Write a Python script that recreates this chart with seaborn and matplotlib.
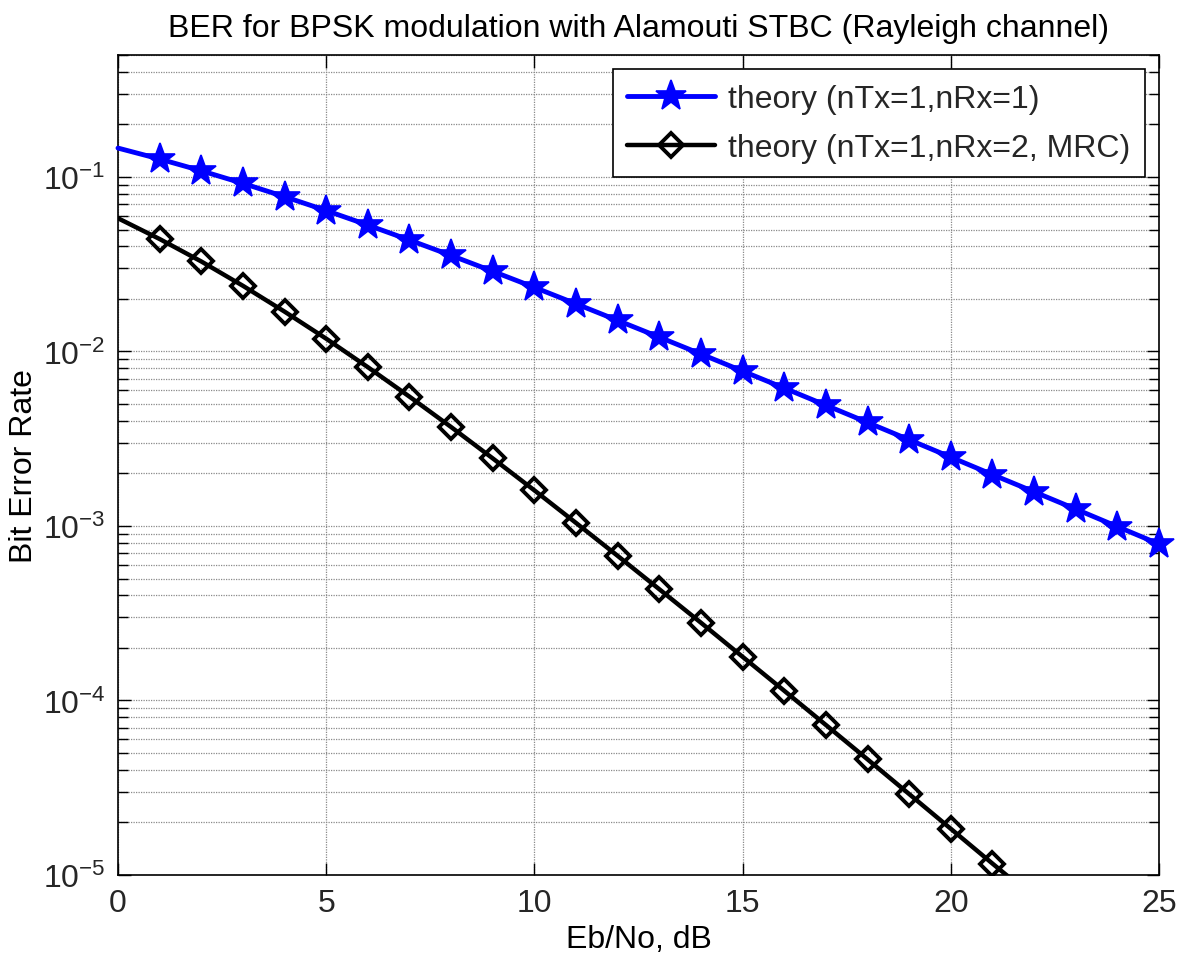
import matplotlib
matplotlib.use("Agg")
import matplotlib.pyplot as plt
import numpy as np
import pandas as pd
import seaborn as sns
from matplotlib.ticker import LogLocator, NullFormatter, FixedLocator

# ---- data ----
ebno_db = list(range(0, 26))
ber_siso = [0.1464, 0.1267, 0.1085, 0.0919, 0.0771, 0.0642, 0.0530, 0.0435,
            0.0355, 0.0288, 0.0233, 0.01875, 0.01506, 0.01208, 0.00967,
            0.00772, 0.00617, 0.00492, 0.00392, 0.00312, 0.00248, 0.00197,
            0.00157, 0.00125, 0.000992, 0.000788]
ber_mrc = [0.0580, 0.0441, 0.0328, 0.02379, 0.01692, 0.01184, 0.00813,
           0.00551, 0.00369, 0.00244, 0.00160, 0.001041, 0.000674, 0.000434,
           0.000279, 0.000178, 0.0001137, 7.24e-5, 4.60e-5, 2.91e-5, 1.84e-5,
           1.163e-5, 7.4e-6, 4.68e-6, 2.95e-6, 1.86e-6]
label_siso = "theory (nTx=1,nRx=1)"
label_mrc = "theory (nTx=1,nRx=2, MRC)"
x_ticks = [0, 5, 10, 15, 20, 25]

df = pd.DataFrame({"ebno": ebno_db, "siso": ber_siso, "mrc": ber_mrc})

sns.set_theme(style="white")
plt.rcParams["font.family"] = ["Liberation Sans", "DejaVu Sans"]
plt.rcParams["mathtext.fontset"] = "custom"
plt.rcParams["mathtext.rm"] = "Liberation Sans"
plt.rcParams["mathtext.it"] = "Liberation Sans:italic"
plt.rcParams["mathtext.bf"] = "Liberation Sans:bold"
FS = 23

fig = plt.figure(figsize=(11.9, 9.62), dpi=100)
ax = fig.add_axes([118 / 1190, 1 - 876 / 962, (1159 - 118) / 1190, (876 - 56) / 962])
ax.set_yscale("log")

sns.lineplot(data=df, x="ebno", y="siso", ax=ax, color="#0000ff", linewidth=3.5,
             marker="*", markersize=23, markevery=slice(1, None),
             markerfacecolor="#0000ff", markeredgecolor="#0000ff",
             markeredgewidth=1.2, clip_on=False, label=label_siso, zorder=3)
sns.lineplot(data=df, x="ebno", y="mrc", ax=ax, color="black", linewidth=3.2,
             marker="D", markersize=12.5, markevery=slice(1, None),
             markerfacecolor="none", markeredgecolor="black",
             markeredgewidth=2.8, label=label_mrc, zorder=3)

ax.set_xlim(0, 25)
ax.set_ylim(1e-5, 0.5)
ax.xaxis.set_major_locator(FixedLocator(x_ticks))
ax.yaxis.set_major_locator(LogLocator(base=10, numticks=20))
ax.yaxis.set_minor_locator(LogLocator(base=10, subs=np.arange(2, 10), numticks=100))
ax.yaxis.set_minor_formatter(NullFormatter())

grid_kw = dict(color="#8a8a8a", linestyle=(0, (1, 1)), linewidth=0.9)
ax.grid(True, which="major", axis="both", **grid_kw)
ax.grid(True, which="minor", axis="y", **grid_kw)
ax.set_axisbelow(True)

for s in ax.spines.values():
    s.set_visible(True)
    s.set_color("black")
    s.set_linewidth(1.2)

ax.tick_params(which="both", direction="in", top=True, right=True,
               bottom=True, left=True, color="black", width=1.0)
ax.tick_params(which="major", length=9, labelsize=FS, pad=9)
ax.tick_params(which="minor", length=7)

ax.set_title("BER for BPSK modulation with Alamouti STBC (Rayleigh channel)",
             fontsize=FS, pad=14, color="black")
ax.set_xlabel("Eb/No, dB", fontsize=FS, labelpad=5, color="black")
ax.set_ylabel("Bit Error Rate", fontsize=FS, labelpad=3, color="black")

leg = ax.legend(loc="upper right", fontsize=FS, frameon=True, fancybox=False,
                framealpha=1, edgecolor="black", handlelength=2.75,
                handletextpad=0.4, borderpad=0.45, labelspacing=0.6,
                borderaxespad=0.45)
leg.get_frame().set_linewidth(1.2)

fig.savefig("out.png", dpi=100, facecolor="white")
